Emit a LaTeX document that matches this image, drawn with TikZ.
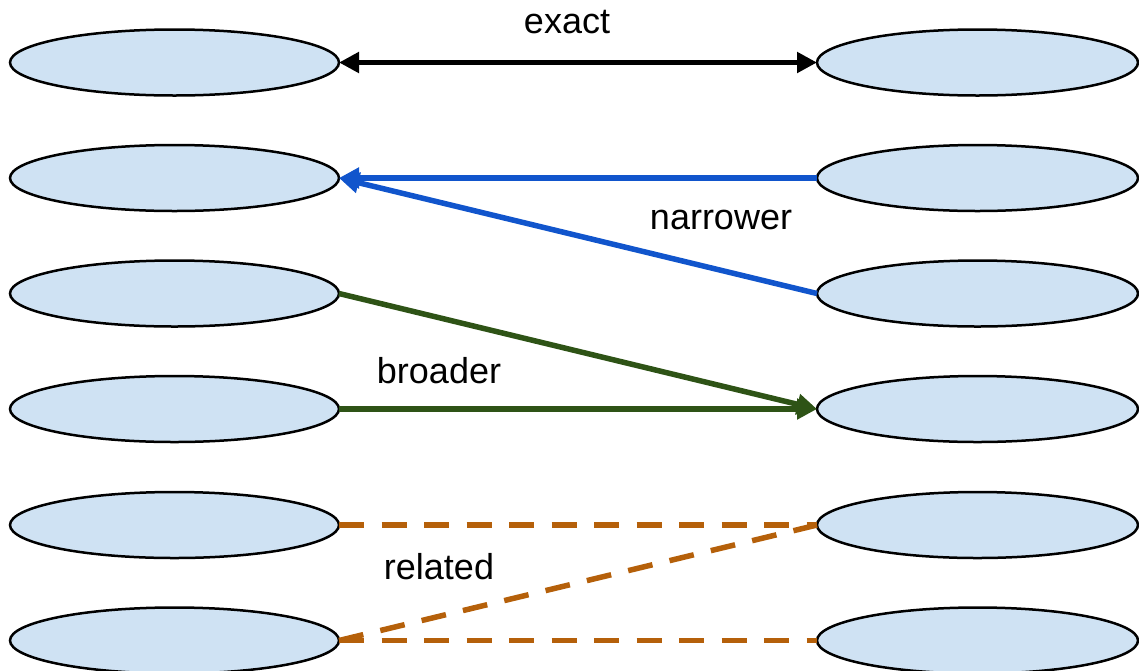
\documentclass[tikz,border=0pt]{standalone}
\usepackage{fontspec}
\setmainfont{Liberation Sans}
\usetikzlibrary{shapes.geometric,arrows.meta}
\definecolor{ellfill}{HTML}{CFE2F3}
\definecolor{cblue}{HTML}{1155CC}
\definecolor{cgreen}{HTML}{2E5316}
\definecolor{corange}{HTML}{B5600A}
\tikzset{
  concept/.style={ellipse, draw=black, line width=2.5pt, fill=ellfill, minimum width=329pt, minimum height=66pt, inner sep=0pt, outer sep=0pt},
  rconcept/.style={concept, minimum width=321pt},
  link/.style={line width=5.5pt},
  tip/.style={-{Triangle[length=20pt,width=20pt]}},
  rel/.style={link, draw=corange, dash pattern=on 25pt off 17.5pt},
  lbl/.style={font=\fontsize{36}{40}\selectfont, inner sep=0pt}
}
\begin{document}
\begin{tikzpicture}[x=1pt,y=-1pt]
\useasboundingbox (0,0) rectangle (1139,670);
\foreach \i/\y in {1/62.5,2/178,3/293.5,4/409,5/525,6/640.5}{
  \node[concept] (L\i) at (174.5,\y) {};
  \node[rconcept] (R\i) at (977.5,\y) {};
}
\draw[link, draw=black, {Triangle[length=20pt,width=20pt]}-{Triangle[length=20pt,width=20pt]}] (L1.east) -- (R1.west);
\draw[link, draw=cblue, tip] (R3.west) -- (L2.east);
\draw[link, draw=cblue, tip] (R2.west) -- (L2.east);
\draw[link, draw=cgreen, tip] (L3.east) -- (R4.west);
\draw[link, draw=cgreen, tip] (L4.east) -- (R4.west);
\draw[rel] (L5.east) -- (R5.west);
\draw[rel] (L6.east) -- (R5.west);
\draw[rel] (L6.east) -- (R6.west);
\node[lbl] (t1) at (567,22) {exact};
\node[lbl] (t2) at (721,220) {narrower};
\node[lbl] (t3) at (439,371) {broader};
\node[lbl] (t4) at (439,567) {related};
\end{tikzpicture}
\end{document}
